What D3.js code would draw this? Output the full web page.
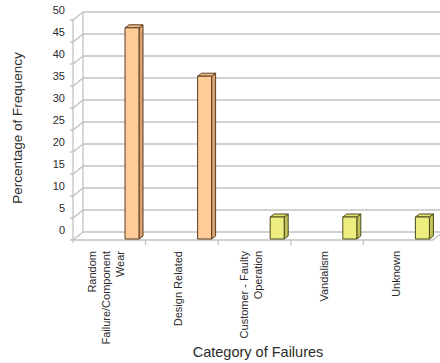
<!DOCTYPE html>
<html>
<head>
<meta charset="utf-8">
<script src="https://cdn.jsdelivr.net/npm/d3@7"></script>
<style>
  body { margin: 0; background: #fff; }
  text { font-family: Arial, "Liberation Sans", sans-serif; fill: #2b2b2b; }
</style>
</head>
<body>
<script>
// data
var categories = [
  ['Random', 'Failure/Component', 'Wear'],
  ['Design Related'],
  ['Customer - Faulty', 'Operation'],
  ['Vandalism'],
  ['Unknown']
];
var values = [48, 37, 5, 5, 5];
var barGroup = ['a', 'a', 'b', 'b', 'b'];
var yTicks = [0, 5, 10, 15, 20, 25, 30, 35, 40, 45, 50];

var W = 440, H = 363;
var dx = -10, dy = 8;   // offset back wall -> front edge

var svg = d3.select('body').append('svg')
  .attr('width', W).attr('height', H);

// scales (back wall)
var y = d3.scaleLinear().domain([0, 50]).range([232, 12]);
var x = d3.scaleBand()
  .domain(d3.range(categories.length))
  .range([73, 436]);

var palette = {
  a: { front: '#FFCC99', side: '#D9A273', top: '#F2BE8C', stroke: '#5C3D1E' },
  b: { front: '#EEEE80', side: '#C2C25A', top: '#E3E37A', stroke: '#4A4A1C' }
};

var grid = svg.append('g')
  .attr('stroke', '#c2c2c2')
  .attr('stroke-width', 1.3)
  .attr('fill', 'none');

// back wall gridlines
grid.selectAll('line.h')
  .data(yTicks)
  .enter().append('line')
    .attr('x1', 83).attr('x2', W)
    .attr('y1', function(d){ return y(d); })
    .attr('y2', function(d){ return y(d); });

// side wall diagonals + front ticks
grid.selectAll('path.d')
  .data(yTicks)
  .enter().append('path')
    .attr('d', function(d){
      return 'M83,' + y(d) + 'L' + (83 + dx) + ',' + (y(d) + dy) + 'l-3,0';
    });

// back wall left edge, front left edge
grid.append('line').attr('x1', 83).attr('x2', 83).attr('y1', y(50)).attr('y2', y(0));
grid.append('line').attr('x1', 73).attr('x2', 73).attr('y1', y(50) + dy).attr('y2', y(0) + dy + 3);

// floor front edge
grid.append('line').attr('x1', 73).attr('x2', x.range()[1] - 3)
  .attr('y1', y(0) + dy).attr('y2', y(0) + dy);
grid.append('line').attr('x1', x.range()[1] - 3).attr('x2', x.range()[1] + 7)
  .attr('y1', y(0) + dy).attr('y2', y(0));

// category ticks
grid.selectAll('line.t')
  .data(d3.range(1, categories.length))
  .enter().append('line')
    .attr('x1', function(d){ return x(d); })
    .attr('x2', function(d){ return x(d); })
    .attr('y1', y(0) + dy)
    .attr('y2', y(0) + dy + 5);

// y tick labels
svg.append('g').selectAll('text')
  .data(yTicks)
  .enter().append('text')
    .attr('x', 65)
    .attr('y', function(d){ return y(d) - 2; })
    .attr('dy', '0.35em')
    .attr('text-anchor', 'end')
    .attr('font-size', 11)
    .text(function(d){ return d; });

// bars
var bw = 14, bd = 4, bh = 3;
var bars = svg.append('g').selectAll('g')
  .data(values)
  .enter().append('g')
    .attr('stroke-width', 1)
    .attr('stroke-linejoin', 'round');

function bx(i){ return x(i) + 52; }
function by(v){ return y(v) + 7; }

bars.append('path')   // side
  .attr('d', function(d, i){
    var x0 = bx(i) + bw, t = by(d), b = by(0);
    return 'M' + x0 + ',' + t + 'l' + bd + ',' + (-bh) + 'L' + (x0 + bd) + ',' + (b - bh) + 'L' + x0 + ',' + b + 'Z';
  })
  .attr('fill', function(d, i){ return palette[barGroup[i]].side; })
  .attr('stroke', function(d, i){ return palette[barGroup[i]].stroke; });

bars.append('path')   // top
  .attr('d', function(d, i){
    var x0 = bx(i), t = by(d);
    return 'M' + x0 + ',' + t + 'l' + bd + ',' + (-bh) + 'l' + bw + ',0l' + (-bd) + ',' + bh + 'Z';
  })
  .attr('fill', function(d, i){ return palette[barGroup[i]].top; })
  .attr('stroke', function(d, i){ return palette[barGroup[i]].stroke; });

bars.append('rect')   // front
  .attr('x', function(d, i){ return bx(i); })
  .attr('y', function(d){ return by(d); })
  .attr('width', bw)
  .attr('height', function(d){ return by(0) - by(d); })
  .attr('fill', function(d, i){ return palette[barGroup[i]].front; })
  .attr('stroke', function(d, i){ return palette[barGroup[i]].stroke; });

// category labels (rotated)
var lab = svg.append('g').selectAll('text')
  .data(categories)
  .enter().append('text')
    .attr('font-size', 11)
    .attr('text-anchor', 'end');

lab.selectAll('tspan')
  .data(function(d, i){
    return d.map(function(s, j){
      var cx = x(i) + x.bandwidth() / 2 + 0.5 + (j - (d.length - 1) / 2) * 14;
      return { s: s, cx: cx };
    });
  })
  .enter().append('tspan')
    .attr('x', -251)
    .attr('y', function(d){ return d.cx; })
    .text(function(d){ return d.s; });

lab.attr('transform', 'rotate(-90)');

// axis titles
svg.append('text')
  .attr('x', 258).attr('y', 357)
  .attr('text-anchor', 'middle')
  .attr('font-size', 14.5)
  .text('Category of Failures');

svg.append('text')
  .attr('transform', 'translate(22,128) rotate(-90)')
  .attr('text-anchor', 'middle')
  .attr('font-size', 13.5)
  .text('Percentage of Frequency');
</script>
</body>
</html>
